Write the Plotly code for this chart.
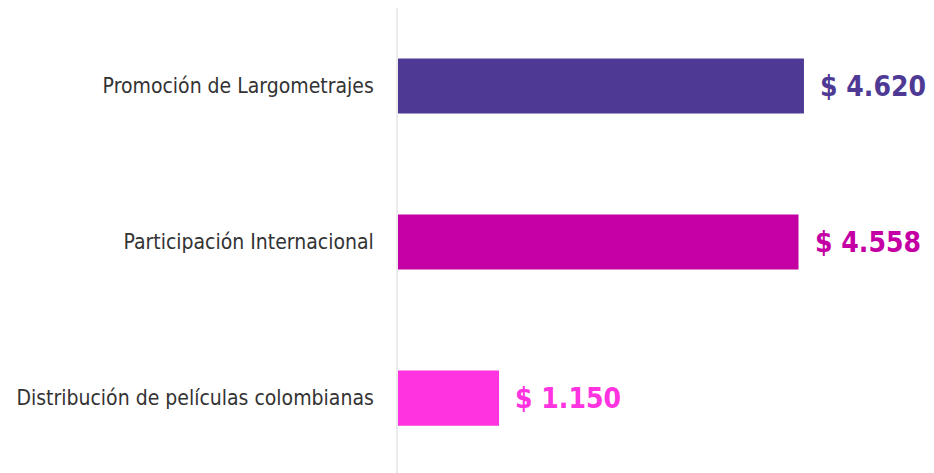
import plotly.graph_objects as go

categories = ["Promoción de Largometrajes", "Participación Internacional", "Distribución de películas colombianas"]
values = [4620, 4558, 1150]
value_labels = ["$ 4.620", "$ 4.558", "$ 1.150"]
colors = ["#4e3a94", "#c400a5", "#ff33e0"]

FONT = "DejaVu Sans Condensed, Liberation Sans Narrow, Roboto"

fig = go.Figure()
fig.add_trace(go.Bar(
    y=categories, x=values, orientation="h",
    marker=dict(color=colors, line=dict(width=0)),
    width=0.353,
    hoverinfo="skip",
))
for cat, val, lab, col in zip(categories, values, value_labels, colors):
    fig.add_annotation(
        x=val, y=cat, text=lab, showarrow=False,
        xanchor="left", yanchor="middle", xshift=14,
        font=dict(family=FONT, size=28, color=col, weight="bold"),
    )

fig.update_layout(
    width=926, height=465,
    margin=dict(l=390, r=0, t=0, b=0, autoexpand=False),
    paper_bgcolor="white", plot_bgcolor="white",
    showlegend=False,
    xaxis=dict(range=[0, 6100], visible=False, fixedrange=True),
    yaxis=dict(
        range=[2.48, -0.5], showgrid=False, zeroline=False,
        showline=True, linecolor="#ebebeb", linewidth=2,
        ticks="", ticklabelstandoff=18, automargin=False,
        tickfont=dict(family=FONT, size=21, color="#333333"),
    ),
)
fig.write_html("out.html")
